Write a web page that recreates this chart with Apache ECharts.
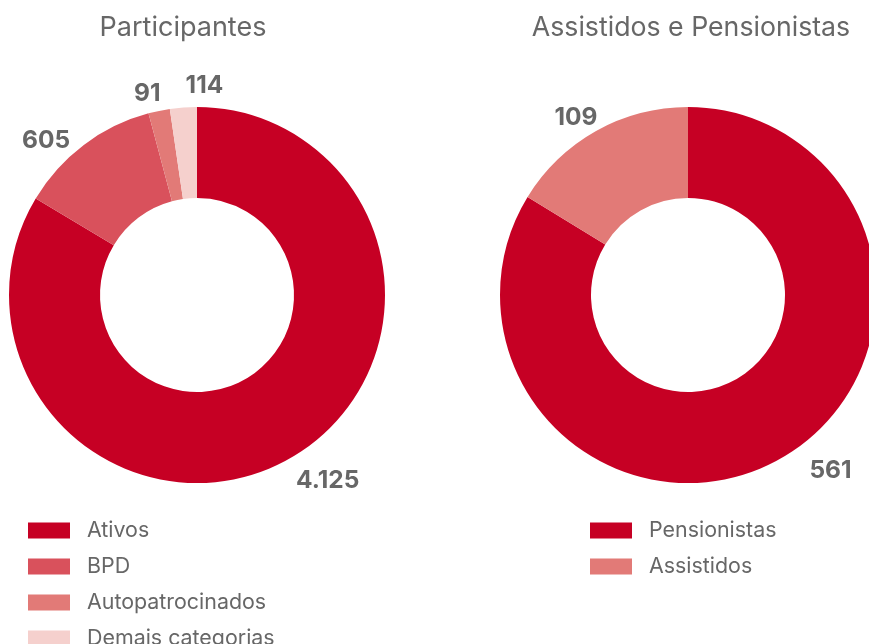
<!DOCTYPE html>
<html lang="pt-BR">

<head>
    <meta charset="UTF-8">
    <title>Participantes</title>
    <style>
        html, body { margin: 0; padding: 0; background: #fff; }
        #main { width: 869px; height: 644px; }
    </style>
</head>

<body>
    <div id="main"></div>
    <script src="https://cdn.jsdelivr.net/npm/echarts@6.0.0/dist/echarts.min.js"></script>
    <script>
        // dados
        var participantesNomes = ['Ativos', 'BPD', 'Autopatrocinados', 'Demais categorias'];
        var participantesValores = [4125, 605, 91, 114];
        var assistidosNomes = ['Pensionistas', 'Assistidos'];
        var assistidosValores = [561, 109];

        var coresPart = ['#C60024', '#D9515C', '#E27A77', '#F5D0CD'];
        var coresAssist = ['#C60024', '#E27A77'];

        // ajuste fino dos rotulos (comprimento da linha invisivel / distancia)
        var rotPart = [[25, -6], [5, 10.6], [18, -5], [22, -41.5]];
        var rotAssist = [[13.2, 23], [15.5, -9]];

        var cinza = '#676767';
        var fonte = 'Inter, "Noto Sans", sans-serif';

        function fmt(n) {
            return String(n).replace(/\B(?=(\d{3})+(?!\d))/g, '.');
        }

        function montaDados(nomes, valores, cores, rot) {
            return nomes.map(function (nome, i) {
                return {
                    name: nome,
                    value: valores[i],
                    itemStyle: { color: cores[i] },
                    labelLine: { show: false, length: rot[i][0], length2: 0 },
                    label: { distanceToLabelLine: rot[i][1] }
                };
            });
        }

        var chart = echarts.init(document.getElementById('main'));

        var serieBase = {
            type: 'pie',
            radius: [97, 188],
            startAngle: 90,
            clockwise: true,
            avoidLabelOverlap: false,
            silent: true,
            padAngle: 0,
            itemStyle: { borderWidth: 0, borderRadius: 0 },
            label: {
                show: true,
                position: 'outside',
                color: cinza,
                fontFamily: fonte,
                fontSize: 24.5,
                fontWeight: 'bold',
                lineHeight: 24,
                formatter: function (p) { return fmt(p.value); }
            },
            emphasis: { disabled: true }
        };

        var legendaBase = {
            orient: 'vertical',
            itemWidth: 42,
            itemHeight: 16,
            itemGap: 15,
            padding: 0,
            height: 200,
            icon: 'rect',
            selectedMode: false,
            textStyle: {
                color: cinza,
                fontFamily: fonte,
                fontSize: 21.4,
                lineHeight: 20,
                padding: [0, 0, 0, 12]
            }
        };

        chart.setOption({
            animation: false,
            title: [
                {
                    text: 'Participantes',
                    left: 183, top: 14, padding: 0, textAlign: 'center',
                    textStyle: { color: cinza, fontFamily: fonte, fontSize: 27, fontWeight: 'normal', lineHeight: 28 }
                },
                {
                    text: 'Assistidos e Pensionistas',
                    left: 691, top: 14, padding: 0, textAlign: 'center',
                    textStyle: { color: cinza, fontFamily: fonte, fontSize: 26.7, fontWeight: 'normal', lineHeight: 28 }
                }
            ],
            legend: [
                Object.assign({}, legendaBase, { left: 28, top: 520, data: participantesNomes }),
                Object.assign({}, legendaBase, { left: 590, top: 520, data: assistidosNomes })
            ],
            series: [
                Object.assign({}, serieBase, {
                    name: 'Participantes',
                    center: [197, 295],
                    data: montaDados(participantesNomes, participantesValores, coresPart, rotPart)
                }),
                Object.assign({}, serieBase, {
                    name: 'Assistidos e Pensionistas',
                    center: [688, 295],
                    data: montaDados(assistidosNomes, assistidosValores, coresAssist, rotAssist)
                })
            ]
        });
    </script>
</body>

</html>
